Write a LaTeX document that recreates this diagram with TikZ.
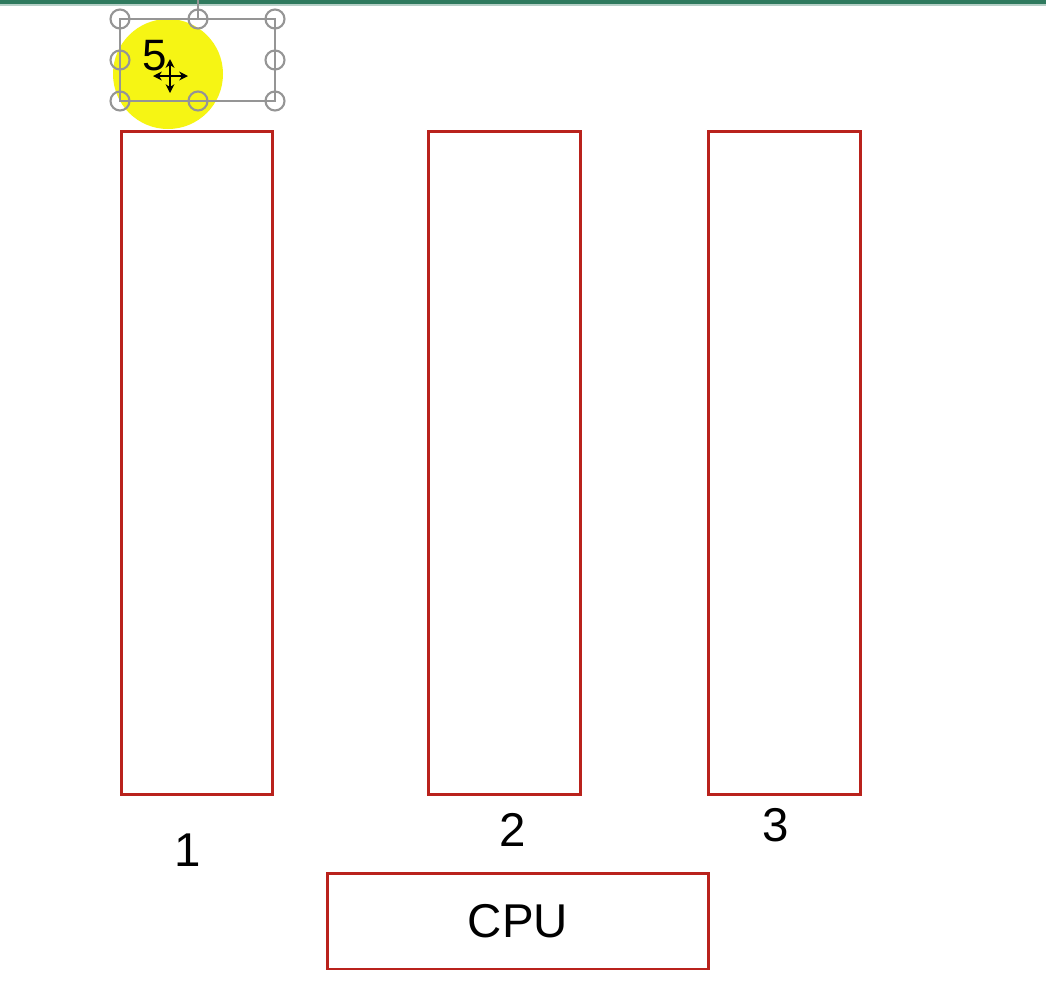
\documentclass[tikz,border=0pt]{standalone}
\usepackage{fontspec}
\setmainfont{Liberation Sans}
\usepackage{xcolor}
\usetikzlibrary{arrows.meta}
\definecolor{slideR}{HTML}{B9221C}
\definecolor{ribbonG}{HTML}{2F7A5E}
\definecolor{handleG}{HTML}{959595}
\definecolor{hiliteY}{HTML}{F6F514}

\begin{document}
\begin{tikzpicture}[x=0.02cm, y=-0.02cm, font=\fontsize{27}{32}\selectfont,
    membox/.style={draw=slideR, line width=1.7pt, minimum width=3.04cm,
      minimum height=13.28cm, inner sep=0pt},
    cpubox/.style={draw=slideR, line width=1.7pt, minimum width=7.64cm,
      minimum height=1.92cm, inner sep=0pt},
    handle/.style={draw=handleG, line width=1.2pt, circle, minimum size=0.38cm,
      inner sep=0pt}]
  \useasboundingbox[fill=white] (0,0) rectangle (1046,1002);

  % window ribbon edge
  \fill[ribbonG] (0,0) rectangle (1046,4);
  \fill[ribbonG!35] (0,4) rectangle (1046,6);

  % pointer highlight
  \fill[hiliteY] (168,74) circle (55);

  % selected text box with its handles
  \coordinate (selNW) at (120,19);
  \coordinate (selSE) at (275,101);
  \draw[handleG, line width=1pt] (selNW) rectangle (selSE);
  \draw[handleG, line width=0.7pt] (198,0) -- (198,19);
  \foreach \hx/\hy/\hn in {
    120/19/a,
    198/19/b,
    275/19/c,
    120/60/d,
    275/60/e,
    120/101/f,
    198/101/g,
    275/101/h}{
    \node[handle] (h\hn) at (\hx,\hy) {};
  }
  \node[font=\fontsize{25}{28}\selectfont] (five) at (155,56) {5};

  % move cursor
  \draw[{Stealth[length=5pt,width=5pt]}-{Stealth[length=5pt,width=5pt]}, line width=1.3pt] (153,76) -- (188,76);
  \draw[{Stealth[length=5pt,width=5pt]}-{Stealth[length=5pt,width=5pt]}, line width=1.3pt] (170,59) -- (170,93);

  % memory columns
  \node[membox] (m1) at (197,463) {};
  \node[membox] (m2) at (504.5,463) {};
  \node[membox] (m3) at (784.5,463) {};

  \node (l1) at (188,850) {1};
  \node (l2) at (513,830) {2};
  \node (l3) at (776,825) {3};

  % processor
  \node[cpubox] (cpu) at (518,921) {CPU};
\end{tikzpicture}
\end{document}
